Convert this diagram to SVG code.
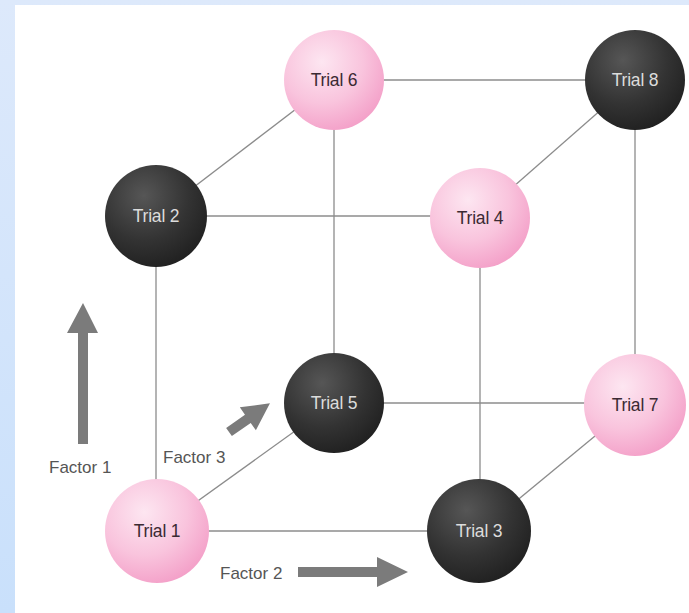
<svg xmlns="http://www.w3.org/2000/svg" width="689" height="613" viewBox="0 0 689 613">
  <defs>
    <linearGradient id="bgBlue" x1="0" y1="0" x2="0" y2="1">
      <stop offset="0" stop-color="#dde9fb"/>
      <stop offset="1" stop-color="#c9e0fb"/>
    </linearGradient>
    <radialGradient id="pinkBall" cx="0.38" cy="0.32" r="0.75">
      <stop offset="0" stop-color="#fde6f1"/>
      <stop offset="0.55" stop-color="#f9c4dd"/>
      <stop offset="1" stop-color="#f39cc6"/>
    </radialGradient>
    <radialGradient id="darkBall" cx="0.38" cy="0.3" r="0.8">
      <stop offset="0" stop-color="#565656"/>
      <stop offset="0.55" stop-color="#333333"/>
      <stop offset="1" stop-color="#1c1c1c"/>
    </radialGradient>
  </defs>
  <style>
    .edge { stroke: #8c8c8c; stroke-width: 1.3; fill: none; }
    .pink { fill: url(#pinkBall); }
    .dark { fill: url(#darkBall); }
    .lbl { font-family: "Liberation Sans", Arial, sans-serif; font-size: 17.5px; text-anchor: middle; dominant-baseline: central; letter-spacing: -0.2px; }
    .pink-t { fill: #3b2a33; }
    .dark-t { fill: #dcdcdc; }
    .factor { font-family: "Liberation Sans", Arial, sans-serif; font-size: 17px; fill: #555555; }
    .arrow { fill: #7b7b7b; }
  </style>

  <!-- page background -->
  <rect x="0" y="0" width="689" height="613" fill="url(#bgBlue)"/>
  <rect x="15" y="5" width="674" height="608" fill="#ffffff"/>

  <!-- cube edges -->
  <g id="connectors">
    <line class="edge" x1="334" y1="80" x2="635" y2="80"/>
    <line class="edge" x1="156" y1="216" x2="480" y2="216"/>
    <line class="edge" x1="334" y1="403" x2="635" y2="403"/>
    <line class="edge" x1="156" y1="531" x2="480" y2="531"/>
    <line class="edge" x1="156" y1="216" x2="156" y2="531"/>
    <line class="edge" x1="334" y1="80" x2="334" y2="403"/>
    <line class="edge" x1="480" y1="216" x2="480" y2="531"/>
    <line class="edge" x1="635" y1="80" x2="635" y2="403"/>
    <line class="edge" x1="156" y1="216" x2="334" y2="80"/>
    <line class="edge" x1="480" y1="216" x2="635" y2="80"/>
    <line class="edge" x1="156" y1="531" x2="334" y2="403"/>
    <line class="edge" x1="480" y1="531" x2="635" y2="403"/>
  </g>

  <!-- trials -->
  <g id="trial6"><circle class="pink" cx="334" cy="80" r="50"/><text class="lbl pink-t" x="334" y="80">Trial 6</text></g>
  <g id="trial8"><circle class="dark" cx="635" cy="80" r="50"/><text class="lbl dark-t" x="635" y="80">Trial 8</text></g>
  <g id="trial2"><circle class="dark" cx="156" cy="216" r="51"/><text class="lbl dark-t" x="156" y="216">Trial 2</text></g>
  <g id="trial4"><circle class="pink" cx="480" cy="218" r="50"/><text class="lbl pink-t" x="480" y="218">Trial 4</text></g>
  <g id="trial5"><circle class="dark" cx="334" cy="403" r="50"/><text class="lbl dark-t" x="334" y="403">Trial 5</text></g>
  <g id="trial7"><circle class="pink" cx="635" cy="405" r="51"/><text class="lbl pink-t" x="635" y="405">Trial 7</text></g>
  <g id="trial1"><circle class="pink" cx="157" cy="531" r="52"/><text class="lbl pink-t" x="157" y="531">Trial 1</text></g>
  <g id="trial3"><circle class="dark" cx="479" cy="531" r="52"/><text class="lbl dark-t" x="479" y="531">Trial 3</text></g>

  <!-- factor direction arrows -->
  <g id="factor1">
    <polygon class="arrow" points="78,444 88,444 88,333 98,333 83,303 67,333 78,333"/>
    <text class="factor" x="49" y="473">Factor 1</text>
  </g>
  <g id="factor2">
    <polygon class="arrow" points="298,567 377,567 377,557 408,572 377,587 377,577 298,577"/>
    <text class="factor" x="220" y="579">Factor 2</text>
  </g>
  <g id="factor3">
    <polygon class="arrow" transform="translate(229,432) rotate(-35)" points="0,-5 23,-5 23,-14 50,0 23,14 23,5 0,5"/>
    <text class="factor" x="163" y="463">Factor 3</text>
  </g>
</svg>
